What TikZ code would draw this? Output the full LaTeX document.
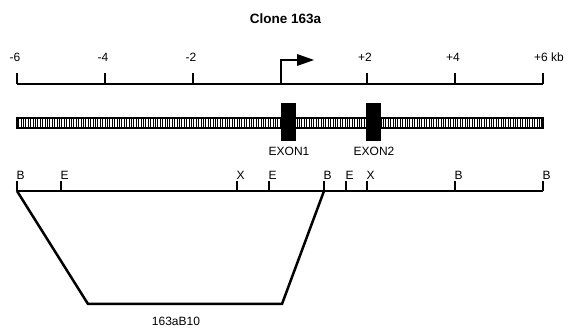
\documentclass[tikz,border=0pt]{standalone}
\usepackage{fontspec}
\setmainfont{Liberation Sans}
\begin{document}
\begin{tikzpicture}[x=1pt,y=-1pt,
  lbl/.style={font=\fontsize{12}{12}\selectfont, inner sep=0pt},
  rlbl/.style={font=\fontsize{12}{12}\selectfont, inner sep=0pt, anchor=south west},
  scaleline/.style={line width=1.3pt},
  mapline/.style={line width=2pt},
  clonebox/.style={line width=2.5pt, line join=miter},
  exonbox/.style={fill=black, draw=none}]
\useasboundingbox (0,0) rectangle (571,328);
\node[font=\bfseries\fontsize{13.5}{14}\selectfont, inner sep=0pt] (title) at (285.5,18.5) {Clone 163a};
% scale
\coordinate (sL) at (17,84);
\coordinate (sR) at (543,84);
\draw[scaleline] (sL) -- (sR);
\foreach \x/\t/\n in {17/-6/a,105/-4/b,193/-2/c,367/+2/d,455/+4/e,543/+6/f}{
  \coordinate (tk\n) at (\x,84);
  \draw[scaleline] (tk\n) -- ++(0,-11);
  \node[lbl] (tl\n) at (\x-2,57.5) {\t};
}
\node[lbl, anchor=west] (kb) at ([xshift=3pt]tlf.east) {kb};
% promoter arrow
\coordinate (p0) at (281,84);
\coordinate (p1) at (298,60);
\draw[line width=1.8pt] (p0) |- (p1);
\fill (297,54) -- (314,60) -- (297,66) -- cycle;
% hatched bar
\coordinate (bL) at (17,118);
\coordinate (bR) at (543,128);
\fill[white] (bL) rectangle (bR);
\foreach \i in {0,...,218}{
  \draw[line width=0.75pt] (18.5+\i*2.4,118.5) -- ++(0,9);
}
\draw[line width=1.2pt] (bL) rectangle (bR);
% exons
\node[exonbox, minimum width=15pt, minimum height=38pt, inner sep=0pt] (ex1) at (288.5,122) {};
\node[exonbox, minimum width=15pt, minimum height=38pt, inner sep=0pt] (ex2) at (373.5,122) {};
\node[lbl] (ex1l) at (289,151) {EXON1};
\node[lbl] (ex2l) at (374,151) {EXON2};
% restriction map
\coordinate (mL) at (17,191);
\coordinate (mR) at (543,191);
\draw[mapline] (mL) -- (mR);
\foreach \x/\t/\n in {17/B/1,61/E/2,237/X/3,269/E/4,324/B/5,346/E/6,367/X/7,455/B/8,543/B/9}{
  \coordinate (r\n) at (\x,191);
  \draw[line width=1.2pt] (r\n) -- ++(0,-10);
  \node[rlbl] (rl\n) at (\x-0.5,180) {\t};
}
% clone
\coordinate (c1) at (88,304);
\coordinate (c2) at (282,304);
\draw[clonebox] (r1) -- (c1) -- (c2) -- (r5);
\node[lbl] (clab) at (176,321) {163aB10};
\end{tikzpicture}
\end{document}
